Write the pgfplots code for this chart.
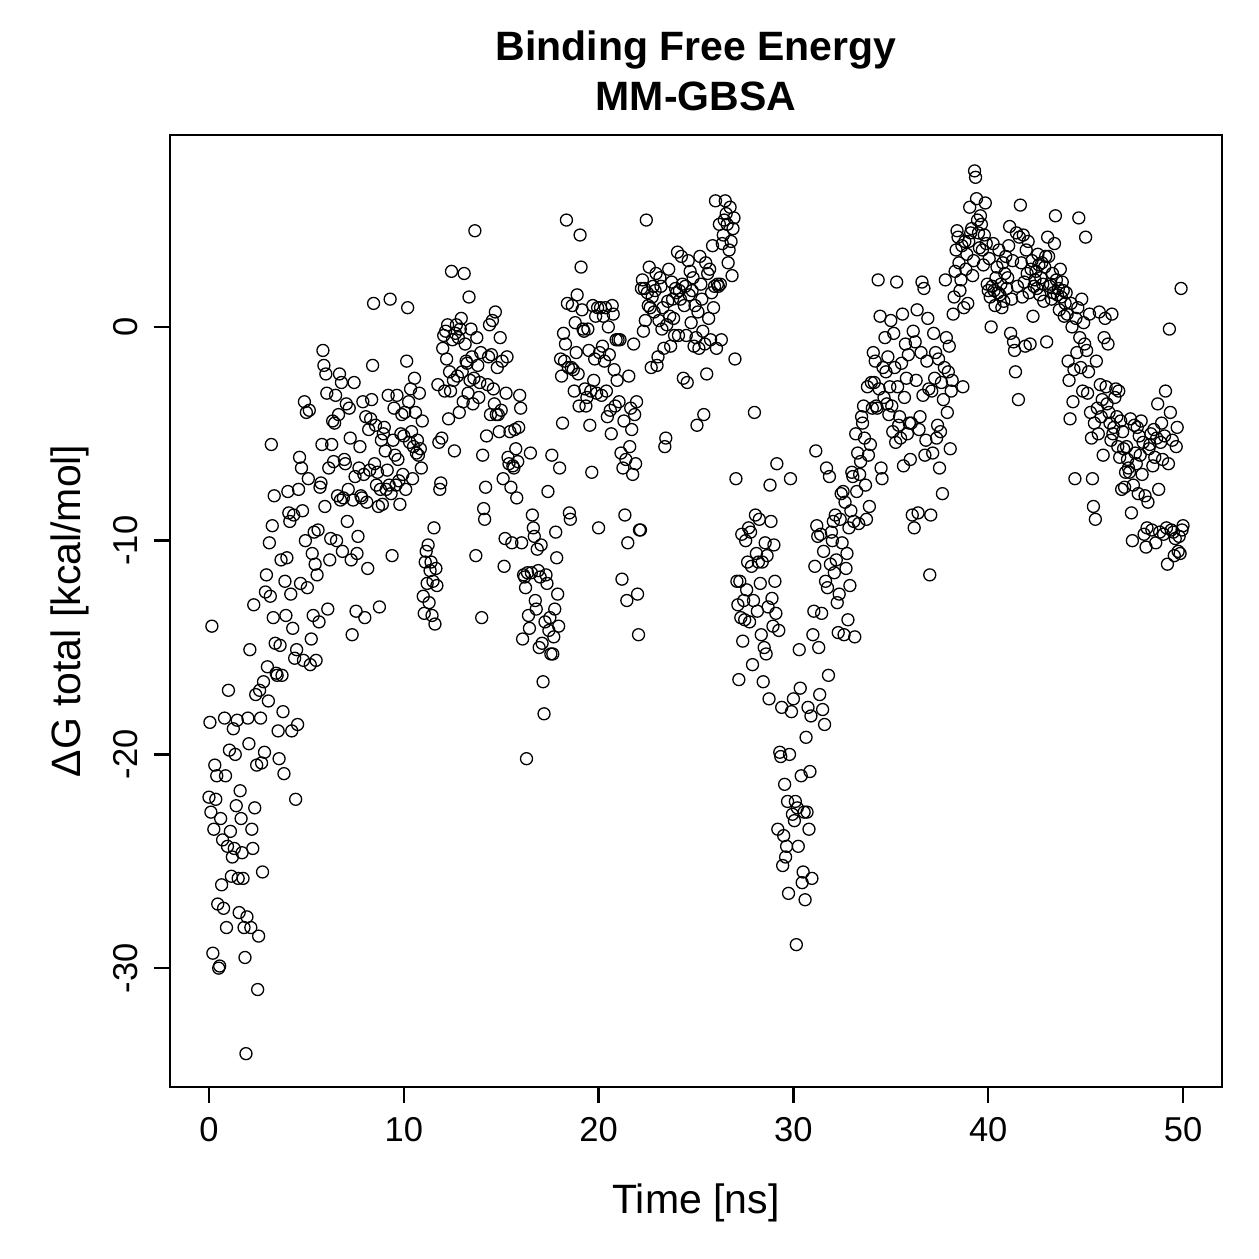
\documentclass[border=0pt]{standalone}
\usepackage{fontspec}
\setmainfont{Liberation Sans}
\usepackage{pgfplots}
\pgfplotsset{compat=1.18}
\begin{document}
\begin{tikzpicture}
\begin{axis}[
  name=ax, at={(0,0)}, anchor=south west,
  scale only axis, width=420.8pt, height=380.8pt,
  xmin=-2, xmax=52, ymin=-35.56, ymax=8.98,
  axis line style={line width=1pt},
  tick align=outside, major tick length=6.4pt,
  tick style={line width=1pt, black},
  xtick={0,10,...,50}, ytick={-30,-20,-10,0},
  xtick pos=bottom, ytick pos=left,
  ticklabel style={font=\fontsize{13.8}{16}\selectfont},
  /pgf/number format/assume math mode=true,
  yticklabel style={rotate=90, anchor=south},
  xticklabel shift=2.4pt, yticklabel shift=2.8pt,
  xlabel={Time [ns]},
  ylabel={ΔG total [kcal/mol]},
  xlabel style={at={([yshift=-46.4pt]axis description cs:0.5,0)}, anchor=center, font=\fontsize{16.4}{19}\selectfont},
  ylabel style={at={([xshift=-40pt]axis description cs:0,0.5)}, anchor=center, font=\fontsize{16.4}{19}\selectfont},
  title={Binding Free Energy\\MM-GBSA},
  title style={at={([yshift=19.6pt]axis description cs:0.5,1)}, anchor=center, align=center, font=\bfseries\fontsize{16.4}{20}\selectfont},
]
% one frame every 0.05 ns
\addplot[only marks, mark=o, mark size=2.4pt, mark options={line width=0.52pt, black}] coordinates {
(0.00,-22.0) (0.05,-18.5) (0.10,-22.7) (0.15,-14.0) (0.20,-29.3) (0.25,-23.5) (0.30,-20.5) (0.35,-22.1) (0.40,-21.0) (0.45,-27.0)
(0.50,-30.0) (0.55,-29.9) (0.60,-23.0) (0.65,-26.1) (0.70,-24.0) (0.75,-27.2) (0.80,-18.3) (0.85,-21.0) (0.90,-28.1) (0.95,-24.3)
(1.00,-17.0) (1.05,-19.8) (1.10,-23.6) (1.15,-25.7) (1.20,-24.8) (1.25,-18.8) (1.30,-24.4) (1.35,-20.0) (1.40,-22.4) (1.45,-18.4)
(1.50,-25.8) (1.55,-27.4) (1.60,-21.7) (1.65,-23.0) (1.70,-24.6) (1.75,-25.8) (1.80,-28.1) (1.85,-29.5) (1.90,-34.0) (1.95,-27.6)
(2.00,-18.3) (2.05,-19.5) (2.10,-15.1) (2.15,-28.1) (2.20,-23.5) (2.25,-24.4) (2.30,-13.0) (2.35,-22.5) (2.40,-17.2) (2.45,-20.5)
(2.50,-31.0) (2.55,-28.5) (2.60,-17.0) (2.65,-18.3) (2.70,-20.4) (2.75,-25.5) (2.80,-16.6) (2.85,-19.9) (2.90,-12.4) (2.95,-11.6)
(3.00,-15.9) (3.05,-17.5) (3.10,-10.1) (3.15,-12.6) (3.20,-5.5) (3.25,-9.3) (3.30,-13.6) (3.35,-7.9) (3.40,-14.8) (3.45,-16.2)
(3.50,-16.3) (3.55,-18.9) (3.60,-20.2) (3.65,-14.9) (3.70,-10.9) (3.75,-16.3) (3.80,-18.0) (3.85,-20.9) (3.90,-11.9) (3.95,-13.5)
(4.00,-10.8) (4.05,-7.7) (4.10,-8.7) (4.15,-9.1) (4.20,-12.5) (4.25,-18.9) (4.30,-14.1) (4.35,-8.8) (4.40,-15.5) (4.45,-22.1)
(4.50,-15.1) (4.55,-18.6) (4.60,-7.6) (4.65,-6.1) (4.70,-12.0) (4.75,-6.6) (4.80,-8.6) (4.85,-15.6) (4.90,-3.5) (4.95,-10.0)
(5.00,-4.0) (5.05,-12.2) (5.10,-7.1) (5.15,-3.9) (5.20,-15.8) (5.25,-14.6) (5.30,-10.6) (5.35,-13.5) (5.40,-9.6) (5.45,-11.1)
(5.50,-15.6) (5.55,-11.6) (5.60,-9.5) (5.65,-13.8) (5.70,-7.5) (5.75,-7.3) (5.80,-5.5) (5.85,-1.1) (5.90,-1.8) (5.95,-8.4)
(6.00,-2.2) (6.05,-3.1) (6.10,-13.2) (6.15,-6.6) (6.20,-10.9) (6.25,-9.9) (6.30,-5.5) (6.35,-4.4) (6.40,-6.3) (6.45,-4.5)
(6.50,-3.2) (6.55,-10.0) (6.60,-7.9) (6.65,-4.1) (6.70,-2.2) (6.75,-8.1) (6.80,-2.6) (6.85,-10.5) (6.90,-8.0) (6.95,-6.2)
(7.00,-6.4) (7.05,-3.6) (7.10,-9.1) (7.15,-7.6) (7.20,-3.8) (7.25,-5.2) (7.30,-10.9) (7.35,-14.4) (7.40,-8.1) (7.45,-2.6)
(7.50,-7.0) (7.55,-13.3) (7.60,-10.6) (7.65,-9.8) (7.70,-6.6) (7.75,-5.6) (7.80,-7.9) (7.85,-8.0) (7.90,-3.5) (7.95,-6.9)
(8.00,-13.6) (8.05,-4.2) (8.10,-8.2) (8.15,-11.3) (8.20,-4.8) (8.25,-6.7) (8.30,-4.3) (8.35,-3.4) (8.40,-1.8) (8.45,1.1)
(8.50,-6.4) (8.55,-4.6) (8.60,-7.4) (8.65,-6.8) (8.70,-8.4) (8.75,-13.1) (8.80,-7.6) (8.85,-5.3) (8.90,-8.3) (8.95,-5.0)
(9.00,-4.7) (9.05,-5.8) (9.10,-7.6) (9.15,-6.7) (9.20,-3.2) (9.25,-7.4) (9.30,1.3) (9.35,-7.8) (9.40,-10.7) (9.45,-5.3)
(9.50,-3.8) (9.55,-6.0) (9.60,-7.4) (9.65,-3.2) (9.70,-6.2) (9.75,-7.2) (9.80,-8.3) (9.85,-5.0) (9.90,-4.1) (9.95,-6.9)
(10.00,-5.1) (10.05,-4.0) (10.10,-7.6) (10.15,-1.6) (10.20,0.9) (10.25,-3.5) (10.30,-5.4) (10.35,-2.9) (10.40,-4.9) (10.45,-7.1)
(10.50,-5.6) (10.55,-2.4) (10.60,-4.0) (10.65,-5.9) (10.70,-5.3) (10.75,-6.0) (10.80,-3.1) (10.85,-5.7) (10.90,-6.6) (10.95,-4.4)
(11.00,-12.6) (11.05,-13.4) (11.10,-11.0) (11.15,-10.5) (11.20,-12.0) (11.25,-10.2) (11.30,-12.9) (11.35,-11.4) (11.40,-11.0) (11.45,-13.5)
(11.50,-11.9) (11.55,-9.4) (11.60,-13.9) (11.65,-11.3) (11.70,-12.1) (11.75,-2.7) (11.80,-5.4) (11.85,-7.6) (11.90,-7.3) (11.95,-5.2)
(12.00,-1.0) (12.05,-0.4) (12.10,-3.0) (12.15,-0.2) (12.20,-1.5) (12.25,0.1) (12.30,-4.3) (12.35,-2.1) (12.40,-3.0) (12.45,2.6)
(12.50,-0.6) (12.55,-2.5) (12.60,-5.8) (12.65,-0.3) (12.70,0.1) (12.75,-2.3) (12.80,-0.5) (12.85,-4.0) (12.90,-0.1) (12.95,0.4)
(13.00,-2.1) (13.05,-3.5) (13.10,2.5) (13.15,-0.8) (13.20,-1.6) (13.25,-1.7) (13.30,-3.1) (13.35,1.4) (13.40,-2.5) (13.45,-0.1)
(13.50,-1.4) (13.55,-3.6) (13.60,-2.4) (13.65,4.5) (13.70,-10.7) (13.75,-0.5) (13.80,-1.8) (13.85,-3.3) (13.90,-2.6) (13.95,-1.2)
(14.00,-13.6) (14.05,-6.0) (14.10,-8.5) (14.15,-9.0) (14.20,-7.5) (14.25,-5.1) (14.30,-2.7) (14.35,-1.4) (14.40,0.1) (14.45,-4.1)
(14.50,-1.3) (14.55,0.3) (14.60,-2.9) (14.65,-3.6) (14.70,0.7) (14.75,-4.1) (14.80,-1.9) (14.85,-4.1) (14.90,-4.9) (14.95,-0.5)
(15.00,-3.9) (15.05,-1.6) (15.10,-7.1) (15.15,-11.2) (15.20,-9.9) (15.25,-3.1) (15.30,-1.4) (15.35,-6.1) (15.40,-6.4) (15.45,-4.9)
(15.50,-7.5) (15.55,-10.1) (15.60,-6.5) (15.65,-6.6) (15.70,-4.8) (15.75,-5.7) (15.80,-8.0) (15.85,-6.3) (15.90,-4.7) (15.95,-3.2)
(16.00,-3.8) (16.05,-10.1) (16.10,-14.6) (16.15,-11.6) (16.20,-11.7) (16.25,-12.2) (16.30,-20.2) (16.35,-11.5) (16.40,-13.5) (16.45,-14.1)
(16.50,-5.9) (16.55,-11.5) (16.60,-8.8) (16.65,-9.4) (16.70,-9.8) (16.75,-12.8) (16.80,-13.2) (16.85,-10.4) (16.90,-11.4) (16.95,-15.0)
(17.00,-11.7) (17.05,-10.2) (17.10,-14.8) (17.15,-16.6) (17.20,-18.1) (17.25,-13.8) (17.30,-11.6) (17.35,-12.0) (17.40,-7.7) (17.45,-14.2)
(17.50,-13.6) (17.55,-15.3) (17.60,-6.0) (17.65,-15.3) (17.70,-14.5) (17.75,-13.2) (17.80,-9.6) (17.85,-10.8) (17.90,-12.5) (17.95,-14.0)
(18.00,-6.6) (18.05,-1.5) (18.10,-2.3) (18.15,-4.5) (18.20,-0.3) (18.25,-1.6) (18.30,-0.8) (18.35,5.0) (18.40,1.1) (18.45,-1.9)
(18.50,-8.7) (18.55,-9.0) (18.60,-1.9) (18.65,1.0) (18.70,-2.0) (18.75,-3.0) (18.80,0.2) (18.85,-1.2) (18.90,1.5) (18.95,-2.2)
(19.00,-3.7) (19.05,4.3) (19.10,2.8) (19.15,0.8) (19.20,-0.1) (19.25,-0.2) (19.30,-2.9) (19.35,-3.7) (19.40,-3.3) (19.45,-0.1)
(19.50,-1.1) (19.55,-4.6) (19.60,-3.0) (19.65,-6.8) (19.70,1.0) (19.75,-2.5) (19.80,-1.5) (19.85,0.5) (19.90,-3.1) (19.95,0.9)
(20.00,-9.4) (20.05,-1.2) (20.10,0.9) (20.15,-3.2) (20.20,-0.9) (20.25,0.5) (20.30,-1.6) (20.35,0.9) (20.40,-3.0) (20.45,-4.2)
(20.50,0.0) (20.55,-1.3) (20.60,-3.9) (20.65,-5.0) (20.70,1.0) (20.75,0.6) (20.80,-2.0) (20.85,-3.7) (20.90,-0.6) (20.95,-2.5)
(21.00,-0.6) (21.05,-3.5) (21.10,-0.6) (21.15,-5.9) (21.20,-11.8) (21.25,-6.6) (21.30,-4.4) (21.35,-8.8) (21.40,-6.2) (21.45,-12.8)
(21.50,-10.1) (21.55,-2.3) (21.60,-5.6) (21.65,-3.8) (21.70,-4.8) (21.75,-6.9) (21.80,-0.8) (21.85,-4.1) (21.90,-6.4) (21.95,-3.5)
(22.00,-12.5) (22.05,-14.4) (22.10,-9.5) (22.15,-9.5) (22.20,1.8) (22.25,2.2) (22.30,-0.2) (22.35,1.8) (22.40,0.3) (22.45,5.0)
(22.50,1.6) (22.55,1.0) (22.60,2.8) (22.65,0.9) (22.70,-1.9) (22.75,1.4) (22.80,1.9) (22.85,0.7) (22.90,1.7) (22.95,2.5)
(23.00,-1.8) (23.05,-1.4) (23.10,0.3) (23.15,2.3) (23.20,1.9) (23.25,-0.1) (23.30,0.9) (23.35,-1.0) (23.40,-5.6) (23.45,-5.2)
(23.50,0.1) (23.55,1.2) (23.60,2.7) (23.65,0.5) (23.70,-0.9) (23.75,2.1) (23.80,1.3) (23.85,0.4) (23.90,-0.4) (23.95,1.8)
(24.00,1.6) (24.05,3.5) (24.10,-0.4) (24.15,1.7) (24.20,1.3) (24.25,3.3) (24.30,2.0) (24.35,-2.4) (24.40,1.0) (24.45,1.9)
(24.50,-0.4) (24.55,-2.6) (24.60,3.1) (24.65,1.5) (24.70,2.6) (24.75,0.2) (24.80,1.7) (24.85,2.3) (24.90,-0.9) (24.95,1.0)
(25.00,-0.5) (25.05,-4.6) (25.10,0.7) (25.15,-1.0) (25.20,3.3) (25.25,2.0) (25.30,1.3) (25.35,-0.2) (25.40,-4.1) (25.45,-0.8)
(25.50,3.0) (25.55,-2.2) (25.60,2.5) (25.65,0.4) (25.70,2.7) (25.75,-0.6) (25.80,1.6) (25.85,3.8) (25.90,0.9) (25.95,1.9)
(26.00,5.9) (26.05,-1.0) (26.10,2.0) (26.15,1.9) (26.20,4.8) (26.25,2.0) (26.30,-0.6) (26.35,3.9) (26.40,4.3) (26.45,5.0)
(26.50,5.9) (26.55,5.3) (26.60,4.8) (26.65,3.0) (26.70,3.6) (26.75,5.6) (26.80,4.0) (26.85,2.4) (26.90,4.6) (26.95,5.1)
(27.00,-1.5) (27.05,-7.1) (27.10,-11.9) (27.15,-13.0) (27.20,-16.5) (27.25,-11.9) (27.30,-13.6) (27.35,-9.7) (27.40,-14.7) (27.45,-12.8)
(27.50,-13.7) (27.55,-10.0) (27.60,-12.3) (27.65,-11.0) (27.70,-9.4) (27.75,-13.8) (27.80,-9.6) (27.85,-11.2) (27.90,-15.8) (27.95,-12.8)
(28.00,-4.0) (28.05,-8.8) (28.10,-10.6) (28.15,-13.3) (28.20,-11.0) (28.25,-9.0) (28.30,-12.0) (28.35,-14.4) (28.40,-11.0) (28.45,-16.6)
(28.50,-15.0) (28.55,-10.1) (28.60,-15.3) (28.65,-10.7) (28.70,-13.1) (28.75,-17.4) (28.80,-7.4) (28.85,-9.1) (28.90,-12.7) (28.95,-14.0)
(29.00,-10.2) (29.05,-11.9) (29.10,-13.4) (29.15,-6.4) (29.20,-23.5) (29.25,-14.2) (29.30,-19.9) (29.35,-20.1) (29.40,-17.8) (29.45,-25.2)
(29.50,-23.8) (29.55,-21.4) (29.60,-24.8) (29.65,-24.3) (29.70,-22.2) (29.75,-26.5) (29.80,-20.0) (29.85,-7.1) (29.90,-18.0) (29.95,-22.8)
(30.00,-17.4) (30.05,-23.1) (30.10,-22.2) (30.15,-28.9) (30.20,-22.5) (30.25,-24.3) (30.30,-15.1) (30.35,-16.9) (30.40,-21.0) (30.45,-26.0)
(30.50,-25.5) (30.55,-22.7) (30.60,-26.8) (30.65,-19.2) (30.70,-22.7) (30.75,-17.8) (30.80,-23.5) (30.85,-20.8) (30.90,-18.2) (30.95,-25.8)
(31.00,-14.4) (31.05,-13.3) (31.10,-11.2) (31.15,-5.8) (31.20,-9.3) (31.25,-9.8) (31.30,-15.0) (31.35,-17.2) (31.40,-9.7) (31.45,-13.4)
(31.50,-17.9) (31.55,-10.5) (31.60,-18.6) (31.65,-11.9) (31.70,-6.6) (31.75,-12.2) (31.80,-16.3) (31.85,-7.0) (31.90,-11.1) (31.95,-9.6)
(32.00,-10.0) (32.05,-9.1) (32.10,-11.5) (32.15,-8.8) (32.20,-10.9) (32.25,-12.9) (32.30,-14.3) (32.35,-12.5) (32.40,-9.0) (32.45,-7.8)
(32.50,-10.1) (32.55,-7.7) (32.60,-14.4) (32.65,-8.2) (32.70,-11.3) (32.75,-10.6) (32.80,-13.7) (32.85,-9.4) (32.90,-12.1) (32.95,-8.6)
(33.00,-6.8) (33.05,-7.0) (33.10,-9.1) (33.15,-14.5) (33.20,-5.0) (33.25,-7.7) (33.30,-5.9) (33.35,-9.2) (33.40,-6.9) (33.45,-6.3)
(33.50,-4.2) (33.55,-4.5) (33.60,-3.7) (33.65,-5.2) (33.70,-7.4) (33.75,-9.0) (33.80,-2.8) (33.85,-6.0) (33.90,-8.4) (33.95,-5.5)
(34.00,-2.6) (34.05,-3.8) (34.10,-1.2) (34.15,-2.6) (34.20,-1.6) (34.25,-3.7) (34.30,-3.8) (34.35,2.2) (34.40,-2.9) (34.45,0.5)
(34.50,-6.6) (34.55,-7.1) (34.60,-1.9) (34.65,-3.3) (34.70,-0.5) (34.75,-2.1) (34.80,-3.6) (34.85,-1.4) (34.90,-4.1) (34.95,-2.8)
(35.00,0.3) (35.05,-3.7) (35.10,-4.9) (35.15,-0.3) (35.20,-1.9) (35.25,-5.4) (35.30,2.1) (35.35,-2.8) (35.40,-4.6) (35.45,-4.2)
(35.50,-5.2) (35.55,-1.7) (35.60,0.6) (35.65,-6.5) (35.70,-3.3) (35.75,-0.8) (35.80,-2.4) (35.85,-5.0) (35.90,-1.3) (35.95,-4.5)
(36.00,-6.2) (36.05,-4.5) (36.10,-8.8) (36.15,-0.2) (36.20,-9.4) (36.25,-0.7) (36.30,-2.5) (36.35,0.8) (36.40,-8.7) (36.45,-4.8)
(36.50,-4.2) (36.55,-1.2) (36.60,2.1) (36.65,-3.2) (36.70,1.8) (36.75,-6.0) (36.80,-5.3) (36.85,-1.6) (36.90,0.4) (36.95,-2.9)
(37.00,-11.6) (37.05,-8.8) (37.10,-3.0) (37.15,-5.9) (37.20,-0.3) (37.25,-2.4) (37.30,-1.2) (37.35,-5.2) (37.40,-4.6) (37.45,-1.5)
(37.50,-6.6) (37.55,-4.9) (37.60,-2.6) (37.65,-7.8) (37.70,-3.4) (37.75,-1.9) (37.80,2.2) (37.85,-0.5) (37.90,-4.0) (37.95,-2.1)
(38.00,-0.9) (38.05,-5.7) (38.10,-3.0) (38.15,-2.5) (38.20,0.6) (38.25,1.4) (38.30,2.6) (38.35,3.6) (38.40,4.5) (38.45,4.2)
(38.50,3.0) (38.55,1.7) (38.60,2.2) (38.65,3.8) (38.70,-2.8) (38.75,0.9) (38.80,4.0) (38.85,2.7) (38.90,3.4) (38.95,1.1)
(39.00,4.0) (39.05,5.6) (39.10,4.4) (39.15,4.6) (39.20,2.4) (39.25,3.1) (39.30,7.3) (39.35,7.0) (39.40,6.0) (39.45,5.0)
(39.50,4.4) (39.55,3.7) (39.60,5.2) (39.65,4.8) (39.70,3.6) (39.75,2.9) (39.80,4.3) (39.85,5.8) (39.90,3.9) (39.95,2.0)
(40.00,1.7) (40.05,3.2) (40.10,1.4) (40.15,0.0) (40.20,1.9) (40.25,3.9) (40.30,1.7) (40.35,1.0) (40.40,2.3) (40.45,2.8)
(40.50,1.6) (40.55,3.6) (40.60,1.5) (40.65,2.0) (40.70,0.9) (40.75,3.0) (40.80,1.2) (40.85,2.5) (40.90,3.3) (40.95,1.8)
(41.00,2.3) (41.05,3.8) (41.10,4.7) (41.15,-0.3) (41.20,1.3) (41.25,3.1) (41.30,-0.7) (41.35,-1.1) (41.40,-2.1) (41.45,4.4)
(41.50,1.9) (41.55,-3.4) (41.60,4.2) (41.65,5.7) (41.70,3.0) (41.75,1.4) (41.80,4.3) (41.85,2.1) (41.90,-0.9) (41.95,3.6)
(42.00,2.5) (42.05,4.0) (42.10,1.6) (42.15,-0.8) (42.20,2.7) (42.25,3.1) (42.30,0.5) (42.35,1.9) (42.40,2.2) (42.45,2.6)
(42.50,1.8) (42.55,3.4) (42.60,2.9) (42.65,1.5) (42.70,2.3) (42.75,3.0) (42.80,2.0) (42.85,1.2) (42.90,2.8) (42.95,3.3)
(43.00,-0.7) (43.05,4.2) (43.10,3.3) (43.15,1.9) (43.20,2.0) (43.25,1.3) (43.30,2.5) (43.35,1.6) (43.40,3.9) (43.45,5.2)
(43.50,2.2) (43.55,1.5) (43.60,1.8) (43.65,0.8) (43.70,2.7) (43.75,1.4) (43.80,2.1) (43.85,1.7) (43.90,0.5) (43.95,1.1)
(44.00,1.6) (44.05,0.6) (44.10,-1.6) (44.15,-2.5) (44.20,-4.3) (44.25,1.1) (44.30,0.0) (44.35,-3.5) (44.40,-2.0) (44.45,-7.1)
(44.50,0.4) (44.55,-1.2) (44.60,0.9) (44.65,5.1) (44.70,-0.5) (44.75,-1.9) (44.80,1.3) (44.85,-3.0) (44.90,0.2) (44.95,-0.8)
(45.00,4.2) (45.05,-1.1) (45.10,-3.1) (45.15,-2.1) (45.20,0.6) (45.25,-4.0) (45.30,-5.2) (45.35,-7.1) (45.40,-8.4) (45.45,-4.5)
(45.50,-9.0) (45.55,-1.6) (45.60,-3.8) (45.65,-5.0) (45.70,0.7) (45.75,-2.7) (45.80,-4.2) (45.85,-3.4) (45.90,-6.0) (45.95,-0.5)
(46.00,0.4) (46.05,-2.8) (46.10,-3.6) (46.15,-0.8) (46.20,-4.0) (46.25,-4.5) (46.30,-5.3) (46.35,0.6) (46.40,-5.0) (46.45,-4.7)
(46.50,-3.3) (46.55,-2.9) (46.60,-4.2) (46.65,-5.6) (46.70,-3.0) (46.75,-6.1) (46.80,-4.4) (46.85,-7.6) (46.90,-4.9) (46.95,-5.7)
(47.00,-7.5) (47.05,-6.8) (47.10,-5.6) (47.15,-6.2) (47.20,-6.6) (47.25,-6.8) (47.30,-4.3) (47.35,-8.7) (47.40,-10.0) (47.45,-7.4)
(47.50,-4.6) (47.55,-5.9) (47.60,-6.4) (47.65,-4.7) (47.70,-7.8) (47.75,-5.1) (47.80,-6.0) (47.85,-4.4) (47.90,-6.9) (47.95,-5.4)
(48.00,-9.7) (48.05,-7.9) (48.10,-10.3) (48.15,-9.4) (48.20,-8.2) (48.25,-5.7) (48.30,-5.5) (48.35,-5.0) (48.40,-9.5) (48.45,-6.5)
(48.50,-4.8) (48.55,-6.1) (48.60,-10.1) (48.65,-5.2) (48.70,-3.6) (48.75,-7.6) (48.80,-9.6) (48.85,-5.4) (48.90,-4.5) (48.95,-6.2)
(49.00,-9.7) (49.05,-5.1) (49.10,-3.0) (49.15,-9.4) (49.20,-11.1) (49.25,-6.4) (49.30,-0.1) (49.35,-4.0) (49.40,-9.5) (49.45,-5.3)
(49.50,-9.6) (49.55,-10.7) (49.60,-9.9) (49.65,-5.6) (49.70,-4.7) (49.75,-10.5) (49.80,-9.8) (49.85,-10.6) (49.90,1.8) (49.95,-9.5)
(50.00,-9.3)
};
\end{axis}
\pgfresetboundingbox
\path[use as bounding box] ([shift={(-68pt,-68.8pt)}]ax.south west) rectangle ([shift={(14.8pt,54pt)}]ax.north east);
\end{tikzpicture}
\end{document}
